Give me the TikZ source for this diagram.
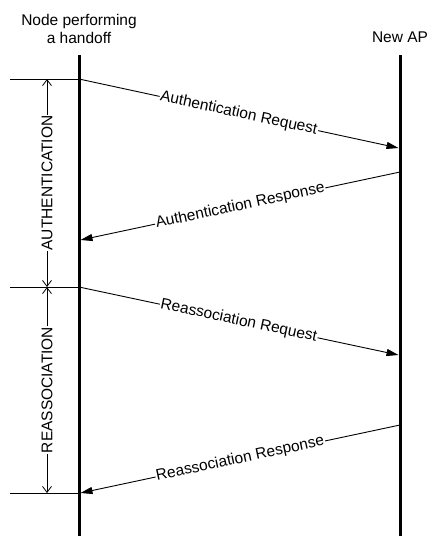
\documentclass[tikz,border=0pt]{standalone}
\usepackage{fontspec}
\setmainfont{Liberation Sans}
\usetikzlibrary{arrows.meta}
\begin{document}
\begin{tikzpicture}[x=1pt,y=-1pt,
  lifeline/.style={line width=3pt},
  msg/.style={line width=0.9pt,-{Triangle[length=12pt,width=7pt]}},
  lbl/.style={font=\fontsize{15.5}{18}\selectfont,fill=white,inner sep=0.8pt,sloped,midway},
  dim/.style={line width=0.8pt,{Straight Barb[length=6pt,width=9pt]}-{Straight Barb[length=6pt,width=9pt]}},
  ext/.style={line width=0.8pt},
  vlbl/.style={font=\fontsize{15.5}{18}\selectfont,fill=white,inner sep=1pt,rotate=90},
  title/.style={font=\fontsize{15.5}{18}\selectfont,align=center}]
\useasboundingbox (0,0) rectangle (429,538);
% titles
\node[title] (tn) at (79,29) {Node performing\\a handoff};
\node[title] (ta) at (400,37) {New AP};
% lifelines
\coordinate (nTop) at (79,55);
\coordinate (nBot) at (79,536);
\coordinate (aTop) at (400,55);
\coordinate (aBot) at (400,536);
\draw[lifeline] (nTop) -- (nBot);
\draw[lifeline] (aTop) -- (aBot);
% message endpoints
\coordinate (m1s) at (79,79);
\coordinate (m1e) at (398.5,148);
\coordinate (m2s) at (400,172);
\coordinate (m2e) at (80.5,240);
\coordinate (m3s) at (79,287);
\coordinate (m3e) at (398.5,355);
\coordinate (m4s) at (400,425);
\coordinate (m4e) at (80.5,493);
\draw[msg] (m1s) -- node[lbl] (l1) {Authentication Request} (m1e);
\draw[msg] (m2s) -- node[lbl] (l2) {Authentication Response} (m2e);
\draw[msg] (m3s) -- node[lbl] (l3) {Reassociation Request} (m3e);
\draw[msg] (m4s) -- node[lbl] (l4) {Reassociation Response} (m4e);
% extension lines
\coordinate (e1) at (10,79);
\coordinate (e2) at (10,287);
\coordinate (e3) at (10,493);
\coordinate (f1) at (79,79);
\coordinate (f2) at (79,287);
\coordinate (f3) at (79,493);
\draw[ext] (e1) -- (f1);
\draw[ext] (e2) -- (f2);
\draw[ext] (e3) -- (f3);
% dimension lines
\coordinate (d1) at (47,79);
\coordinate (d2) at (47,287);
\coordinate (d3) at (47,493);
\draw[dim] (d1) -- (d2);
\draw[dim] (d2) -- (d3);
\node[vlbl] (auth) at (47,183) {AUTHENTICATION};
\node[vlbl] (reas) at (47,390) {REASSOCIATION};
\end{tikzpicture}
\end{document}
